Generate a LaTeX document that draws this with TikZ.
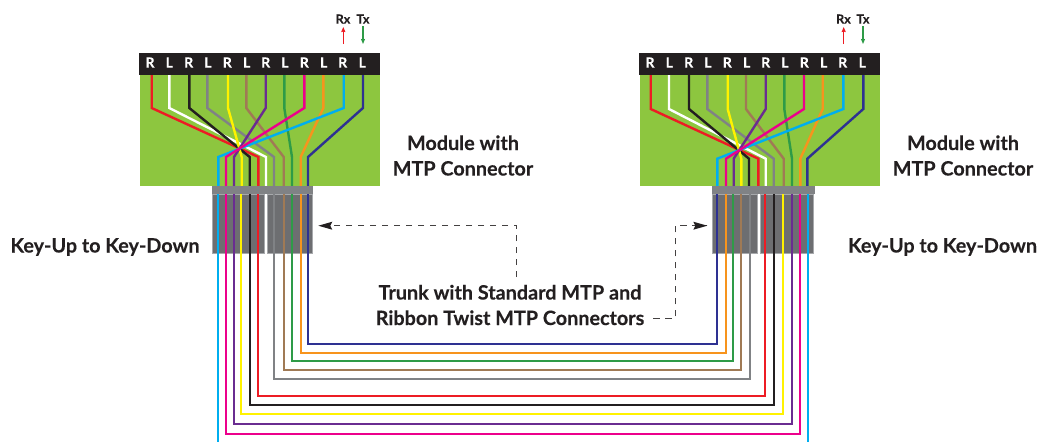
\documentclass[tikz,border=0pt]{standalone}
\usepackage{fontspec}
\setmainfont{Lato}[BoldFont={Lato Bold},BoldFeatures={FakeBold=0.25}]
\usetikzlibrary{arrows.meta}
\definecolor{wR}{HTML}{ED1C24}
\definecolor{wW}{HTML}{FFFFFF}
\definecolor{wK}{HTML}{231F20}
\definecolor{wG}{HTML}{808285}
\definecolor{wY}{HTML}{FFF200}
\definecolor{wB}{HTML}{A07A55}
\definecolor{wP}{HTML}{6A2C91}
\definecolor{wV}{HTML}{2E9B47}
\definecolor{wM}{HTML}{EC008C}
\definecolor{wO}{HTML}{F7941D}
\definecolor{wC}{HTML}{00AEEF}
\definecolor{wN}{HTML}{2E3192}
\definecolor{modgreen}{HTML}{8DC63F}
\definecolor{bodygray}{HTML}{6D6E71}
\definecolor{edgegray}{HTML}{A7A9AC}
\tikzset{
  wire/.style={line width=2.4pt,miter limit=10,line join=miter},
  trunk/.style={line width=2.2pt,line join=miter},
  modbox/.style={fill=modgreen,draw=none},
  barbox/.style={fill=wK,draw=none},
  capbar/.style={fill=wG,draw=none},
  bodybox/.style={fill=bodygray,draw=edgegray,line width=0.6pt},
  pinlabel/.style={text=white,font=\bfseries\fontsize{14}{14}\selectfont,inner sep=0pt},
  rxtx/.style={text=wK,font=\bfseries\fontsize{12.5}{12.5}\selectfont,inner sep=0pt},
  caption/.style={text=wK,font=\bfseries\fontsize{19.8}{25.5}\selectfont,inner sep=0pt,align=center},
  callout/.style={draw=wK!85,line width=1pt,dash pattern=on 6.5pt off 5.5pt},
  sig/.style={line width=1.2pt,-{Stealth[length=5pt,width=4pt,inset=0.5pt]}}
}
\newcommand{\mywire}[5]{\draw[wire,#1] (#2,75) -- (#2,#3) -- (#4,#5) -- (#4,186);}
\newcommand{\mytrunk}[4]{\draw[trunk,#1] (#2,194) -- (#2,#4) -- (#3,#4) -- (#3,194);}
\begin{document}
\begin{tikzpicture}[x=1pt,y=-1pt]
\useasboundingbox (0,0) rectangle (1039,442);
% left module
\fill[modbox] (140,75) rectangle (380,186);
\mywire{wR}{151.7}{108}{258.3}{157}
\mywire{wW}{169.3}{108}{266}{157}
\mywire{wK}{189.3}{108}{249.7}{157}
\mywire{wG}{207.3}{108}{274}{157}
\mywire{wY}{228}{108}{241.7}{157}
\mywire{wB}{246.3}{108}{283.7}{157}
\mywire{wV}{284.3}{108}{292}{157}
\mywire{wO}{323.3}{108}{300.7}{157}
\mywire{wN}{363}{108}{308}{157}
\mywire{wP}{265.7}{108}{234}{157}
\mywire{wC}{343.7}{108}{218.3}{157}
\mywire{wM}{304.3}{108}{226}{157}
% right module
\fill[modbox] (640,75) rectangle (880,186);
\mywire{wR}{650.7}{109}{758.3}{158.7}
\mywire{wW}{669}{109}{765.7}{158.7}
\mywire{wK}{689}{109}{749}{158.7}
\mywire{wG}{707.3}{109}{773.7}{158.7}
\mywire{wY}{727.7}{109}{741.3}{158.7}
\mywire{wB}{746}{109}{783.7}{158.7}
\mywire{wV}{784.3}{109}{792}{158.7}
\mywire{wO}{822.7}{109}{800.3}{158.7}
\mywire{wN}{863.3}{109}{807.3}{158.7}
\mywire{wP}{765.7}{109}{733.7}{158.7}
\mywire{wC}{843.3}{109}{717.3}{158.7}
\mywire{wM}{804}{109}{726}{158.7}
% connector bodies
\filldraw[bodybox] (211.8,194) rectangle (264.3,253.7);
\filldraw[bodybox] (267.2,194) rectangle (312.3,253.7);
\filldraw[bodybox] (712.7,194) rectangle (757.2,253.7);
\filldraw[bodybox] (759.8,194) rectangle (813.3,253.7);
% trunk
\mytrunk{wN}{308}{717.3}{344.3}
\mytrunk{wO}{300.7}{725.7}{352.7}
\mytrunk{wV}{292}{733.3}{360.7}
\mytrunk{wB}{283.7}{741}{370}
\mytrunk{wG}{274}{750}{378.7}
\mytrunk{wR}{258}{765.3}{396}
\mytrunk{wK}{249.7}{774}{404.7}
\mytrunk{wY}{241.3}{783.3}{414}
\mytrunk{wP}{233.7}{791.7}{424.3}
\mytrunk{wM}{226}{800}{434}
\draw[trunk,wC] (218,194) -- (218,442);
\draw[trunk,wC] (807.7,194) -- (807.7,442);
% cap bars
\fill[capbar] (211.6,185.7) rectangle (312.8,194);
\fill[capbar] (712.4,185.7) rectangle (815,194);
% black pin bars
\fill[barbox] (139,53) rectangle (380,75);
\fill[barbox] (639,53) rectangle (880,75);
\foreach \n/\px/\t in {a/150/R,b/169.3/L,c/188.7/R,d/208/L,e/227.3/R,f/246.7/L,g/265.7/R,h/285/L,i/304.3/R,j/323.7/L,k/342.7/R,l/362.3/L}{
  \node[pinlabel] (pl\n) at (\px,62.5) {\t};
  \node[pinlabel] (pr\n) at (\px+500,62.5) {\t};
}
% Rx Tx
\node[rxtx] (rxl) at (343,19) {Rx};
\node[rxtx] (txl) at (363,19) {Tx};
\node[rxtx] (rxr) at (843.5,19) {Rx};
\node[rxtx] (txr) at (863,19) {Tx};
\coordinate (rxla) at (343.3,44); \coordinate (rxlb) at (343.3,27);
\coordinate (txla) at (363,26); \coordinate (txlb) at (363,44);
\coordinate (rxra) at (843.7,44); \coordinate (rxrb) at (843.7,27);
\coordinate (txra) at (863,26); \coordinate (txrb) at (863,44);
\draw[sig,wR] (rxla) -- (rxlb);
\draw[sig,wV] (txla) -- (txlb);
\draw[sig,wR] (rxra) -- (rxrb);
\draw[sig,wV] (txra) -- (txrb);
% captions
\node[caption] (ml) at (463,155.5) {Module with\\MTP Connector};
\node[caption] (mr) at (963,155.5) {Module with\\MTP Connector};
\node[caption] (kl) at (105,247) {Key-Up to Key-Down};
\node[caption] (kr) at (942.5,247) {Key-Up to Key-Down};
\node[caption] (tr) at (510,305) {Trunk with Standard MTP and\\Ribbon Twist MTP Connectors};
% callouts
\coordinate (c1) at (516.7,277);
\coordinate (c1b) at (516.7,225.7);
\coordinate (c1t) at (318.3,225.7);
\coordinate (c2) at (653,318.3);
\coordinate (c2b) at (675,318.3);
\coordinate (c2c) at (675,225.7);
\coordinate (c2t) at (707.3,225.7);
\draw[callout] (c1) -- (c1b) -- (c1t);
\draw[callout] (c2) -- (c2b) -- (c2c) -- (c2t);
\fill[wK] (c1t) -- ++(14,-4) -- ++(-2,4) -- ++(2,4) -- cycle;
\fill[wK] (c2t) -- ++(-14,-4) -- ++(2,4) -- ++(-2,4) -- cycle;
\end{tikzpicture}
\end{document}
